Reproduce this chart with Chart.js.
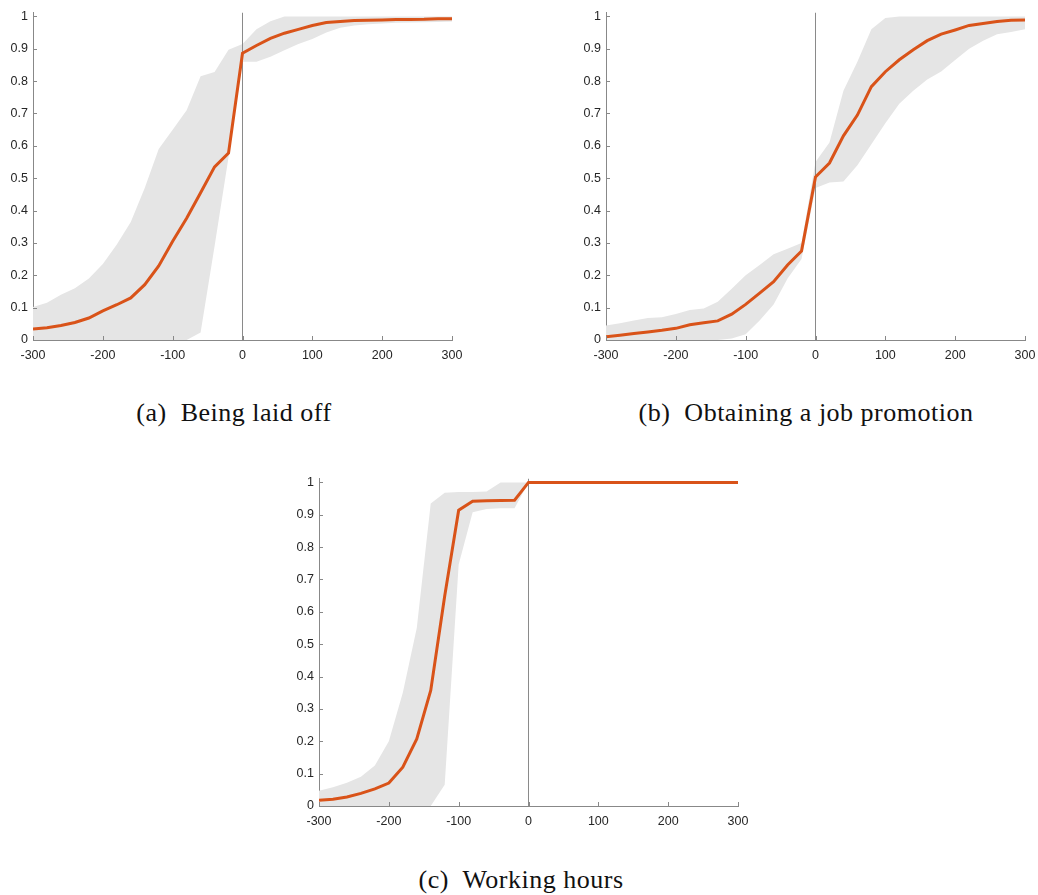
<!DOCTYPE html>
<html>
<head>
<meta charset="utf-8">
<script src="https://cdn.jsdelivr.net/npm/chart.js@4.4.1/dist/chart.umd.min.js"></script>
<style>
  body { margin: 0; background: #fff; }
  #page { position: relative; width: 1038px; height: 895px; overflow: hidden; }
  canvas { position: absolute; }
  .cap {
    position: absolute;
    transform: translateX(-50%);
    white-space: nowrap;
    font-family: "Liberation Serif", serif;
    font-size: 26px;
    letter-spacing: 0.5px;
    color: #111;
    line-height: 30px;
  }
</style>
</head>
<body>
<div id="page">
  <canvas id="panelA" width="472" height="370" style="left:0px; top:0px"></canvas>
  <canvas id="panelB" width="472" height="370" style="left:573px; top:0px"></canvas>
  <canvas id="panelC" width="472" height="370" style="left:286px; top:466px"></canvas>
  <div class="cap" style="left:234px; top:398px">(a)&nbsp; Being laid off</div>
  <div class="cap" style="left:806px; top:398px">(b)&nbsp; Obtaining a job promotion</div>
  <div class="cap" style="left:521px; top:865px">(c)&nbsp; Working hours</div>
</div>
<script>
// distance grid shared by all three panels
const xs = [-300, -280, -260, -240, -220, -200, -180, -160, -140, -120, -100, -80, -60, -40, -20,
  0, 20, 40, 60, 80, 100, 120, 140, 160, 180, 200, 220, 240, 260, 280, 300];

const xTicks = [-300, -200, -100, 0, 100, 200, 300];
const yTicks = [0, 0.1, 0.2, 0.3, 0.4, 0.5, 0.6, 0.7, 0.8, 0.9, 1];
const yTop = 1.012;
const zeroLineX = [0, 0];
const zeroLineY = [0, yTop];

// (a) Being laid off
const laidOffMean = [0.034, 0.038, 0.045, 0.054, 0.068, 0.090, 0.109, 0.130, 0.171, 0.229, 0.305, 0.376, 0.455, 0.535, 0.578,
  0.886, 0.910, 0.932, 0.948, 0.960, 0.972, 0.981, 0.984, 0.987, 0.988, 0.989, 0.990, 0.990, 0.991, 0.993, 0.993];
const laidOffUpper = [0.102, 0.115, 0.140, 0.160, 0.190, 0.235, 0.295, 0.365, 0.470, 0.590, 0.650, 0.710, 0.815, 0.828, 0.897,
  0.915, 0.960, 0.985, 1, 1, 1, 1, 1, 1, 1, 1, 1, 1, 1, 1, 1];
const laidOffLower = [0, 0, 0, 0, 0, 0, 0, 0, 0, 0, 0, 0, 0.023, 0.290, 0.565,
  0.860, 0.860, 0.875, 0.895, 0.915, 0.930, 0.950, 0.965, 0.972, 0.976, 0.978, 0.980, 0.981, 0.982, 0.983, 0.984];

// (b) Obtaining a job promotion
const promoMean = [0.010, 0.015, 0.020, 0.025, 0.030, 0.036, 0.047, 0.053, 0.059, 0.080, 0.110, 0.145, 0.180, 0.232, 0.275,
  0.504, 0.547, 0.631, 0.695, 0.783, 0.829, 0.866, 0.897, 0.925, 0.945, 0.958, 0.972, 0.978, 0.984, 0.988, 0.989];
const promoUpper = [0.045, 0.052, 0.060, 0.068, 0.070, 0.080, 0.093, 0.097, 0.118, 0.158, 0.200, 0.232, 0.265, 0.282, 0.300,
  0.550, 0.610, 0.770, 0.860, 0.960, 0.995, 1, 1, 1, 1, 1, 1, 1, 1, 1, 1];
const promoLower = [0, 0, 0, 0, 0, 0, 0, 0, 0, 0.005, 0.018, 0.060, 0.110, 0.190, 0.250,
  0.470, 0.487, 0.490, 0.540, 0.605, 0.670, 0.730, 0.770, 0.805, 0.830, 0.865, 0.900, 0.925, 0.945, 0.952, 0.960];

// (c) Working hours
const hoursMean = [0.018, 0.021, 0.028, 0.039, 0.053, 0.071, 0.120, 0.207, 0.357, 0.649, 0.914, 0.942, 0.943, 0.944, 0.945,
  1, 1, 1, 1, 1, 1, 1, 1, 1, 1, 1, 1, 1, 1, 1, 1];
const hoursUpper = [0.047, 0.058, 0.072, 0.090, 0.125, 0.200, 0.350, 0.550, 0.935, 0.968, 0.970, 0.970, 0.972, 1, 1,
  1, 1, 1, 1, 1, 1, 1, 1, 1, 1, 1, 1, 1, 1, 1, 1];
const hoursLower = [0, 0, 0, 0, 0, 0, 0, 0, 0, 0.066, 0.746, 0.908, 0.918, 0.920, 0.920,
  1, 1, 1, 1, 1, 1, 1, 1, 1, 1, 1, 1, 1, 1, 1, 1];

const LINE_COLOR = '#d95319';
const BAND_COLOR = '#e5e5e5';
const AXIS_COLOR = '#888888';
const TEXT_COLOR = '#262626';

function toPoints(xv, yv) {
  return xv.map((x, i) => ({ x: x, y: yv[i] }));
}

// MATLAB-style inward tick marks
const innerTicks = {
  id: 'innerTicks',
  afterDraw(chart) {
    const ctx = chart.ctx;
    const xScale = chart.scales.x;
    const yScale = chart.scales.y;
    const area = chart.chartArea;
    ctx.save();
    ctx.strokeStyle = AXIS_COLOR;
    ctx.lineWidth = 1;
    ctx.beginPath();
    xScale.ticks.forEach(t => {
      const px = Math.round(xScale.getPixelForValue(t.value)) + 0.5;
      ctx.moveTo(px, area.bottom);
      ctx.lineTo(px, area.bottom - 4);
    });
    yScale.ticks.forEach(t => {
      const py = Math.round(yScale.getPixelForValue(t.value)) + 0.5;
      ctx.moveTo(area.left, py);
      ctx.lineTo(area.left + 4, py);
    });
    ctx.stroke();
    ctx.restore();
  }
};

function makePanel(id, mean, upper, lower) {
  const ctx = document.getElementById(id).getContext('2d');
  return new Chart(ctx, {
    type: 'line',
    data: {
      datasets: [
        {
          data: toPoints(xs, mean),
          borderColor: LINE_COLOR,
          borderWidth: 3,
          pointRadius: 0,
          fill: false,
          order: 0
        },
        {
          data: toPoints(zeroLineX, zeroLineY),
          borderColor: '#8a8a8a',
          borderWidth: 1,
          pointRadius: 0,
          fill: false,
          order: 1
        },
        {
          data: toPoints(xs, upper),
          borderWidth: 0,
          borderColor: 'rgba(0,0,0,0)',
          backgroundColor: BAND_COLOR,
          pointRadius: 0,
          fill: '+1',
          order: 2
        },
        {
          data: toPoints(xs, lower),
          borderWidth: 0,
          borderColor: 'rgba(0,0,0,0)',
          pointRadius: 0,
          fill: false,
          order: 3
        }
      ]
    },
    options: {
      responsive: false,
      animation: false,
      devicePixelRatio: 1,
      layout: { padding: { left: 0, top: 8, right: 20, bottom: 0 } },
      plugins: {
        legend: { display: false },
        tooltip: { enabled: false }
      },
      scales: {
        x: {
          type: 'linear',
          min: -300,
          max: 300,
          afterBuildTicks: s => { s.ticks = xTicks.map(v => ({ value: v })); },
          afterFit: s => { s.height = 30; },
          grid: { display: false, drawTicks: false },
          border: { display: true, color: AXIS_COLOR, width: 1 },
          ticks: {
            color: TEXT_COLOR,
            padding: 8,
            maxRotation: 0,
            autoSkip: false,
            font: { family: 'Liberation Sans', size: 12.5 },
            callback: v => String(v)
          }
        },
        y: {
          type: 'linear',
          min: 0,
          max: yTop,
          afterBuildTicks: s => { s.ticks = yTicks.map(v => ({ value: v })); },
          afterFit: s => { s.width = 33; },
          grid: { display: false, drawTicks: false },
          border: { display: true, color: AXIS_COLOR, width: 1 },
          ticks: {
            color: TEXT_COLOR,
            padding: 5,
            autoSkip: false,
            font: { family: 'Liberation Sans', size: 12.5 },
            callback: v => String(v)
          }
        }
      }
    },
    plugins: [innerTicks]
  });
}

makePanel('panelA', laidOffMean, laidOffUpper, laidOffLower);
makePanel('panelB', promoMean, promoUpper, promoLower);
makePanel('panelC', hoursMean, hoursUpper, hoursLower);
</script>
</body>
</html>
